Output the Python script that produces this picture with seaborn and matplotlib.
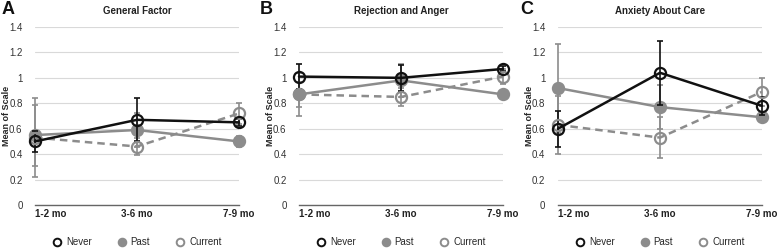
import matplotlib
matplotlib.use("Agg")
import matplotlib.pyplot as plt
from matplotlib.lines import Line2D
import seaborn as sns
import pandas as pd

# categories / labels
timepoints = ['1-2 mo', '3-6 mo', '7-9 mo']
panel_letters = ['A', 'B', 'C']
panel_titles = ['General Factor', 'Rejection and Anger', 'Anxiety About Care']
groups = ['Never', 'Past', 'Current']
yticks = [0, 0.2, 0.4, 0.6, 0.8, 1.0, 1.2, 1.4]
ytick_labels = ['0', '0.2', '0.4', '0.6', '0.8', '1', '1.2', '1.4']

# means per panel (Never, Past, Current)
gf_never = [0.50, 0.67, 0.65]
gf_past = [0.55, 0.59, 0.50]
gf_current = [0.53, 0.46, 0.72]
ra_never = [1.01, 1.00, 1.07]
ra_past = [0.87, 0.98, 0.87]
ra_current = [0.87, 0.85, 1.01]
ac_never = [0.60, 1.04, 0.78]
ac_past = [0.92, 0.77, 0.69]
ac_current = [0.63, 0.53, 0.89]

# error bar half-widths
gf_never_err = [0.08, 0.17, 0.03]
gf_past_err = [0.24, 0.13, 0.04]
gf_current_err = [0.31, 0.07, 0.08]
ra_never_err = [0.10, 0.10, 0.02]
ra_past_err = [0.17, 0.13, 0.02]
ra_current_err = [0.10, 0.07, 0.06]
ac_never_err = [0.14, 0.25, 0.07]
ac_past_err = [0.35, 0.17, 0.04]
ac_current_err = [0.23, 0.16, 0.11]

panels = [
    [(gf_never, gf_never_err), (gf_past, gf_past_err), (gf_current, gf_current_err)],
    [(ra_never, ra_never_err), (ra_past, ra_past_err), (ra_current, ra_current_err)],
    [(ac_never, ac_never_err), (ac_past, ac_past_err), (ac_current, ac_current_err)],
]

sns.set_theme(style="white")
plt.rcParams['font.family'] = ['Liberation Sans', 'DejaVu Sans']

BLACK = '#111111'
GRAY = '#8c8c8c'
styles = {
    'Never': dict(color=BLACK, mfc='none', ls='-', z=5),
    'Past': dict(color=GRAY, mfc=GRAY, ls='-', z=3),
    'Current': dict(color=GRAY, mfc='none', ls=(0, (3, 2)), z=4),
}

W, H = 778, 249
fig = plt.figure(figsize=(W / 100, H / 100), dpi=100)
lefts = [35, 299, 558]
letter_x = [2, 260, 520]
ax_w = 204
ax_top, ax_bot = 27, 205

for i, series in enumerate(panels):
    ax = fig.add_axes([lefts[i] / W, (H - ax_bot) / H, ax_w / W, (ax_bot - ax_top) / H])
    for g, (mean, err) in zip(groups, series):
        st = styles[g]
        df = pd.DataFrame({'x': [0, 1, 2], 'y': mean})
        ax.errorbar(df['x'], df['y'], yerr=err, fmt='none', ecolor=st['color'],
                    elinewidth=1.2, capsize=2.5, capthick=1.2, zorder=st['z'], clip_on=False)
        sns.lineplot(data=df, x='x', y='y', ax=ax, color=st['color'], linestyle=st['ls'],
                     linewidth=1.8, marker='o', markersize=8, markerfacecolor=st['mfc'],
                     markeredgecolor=st['color'], markeredgewidth=1.6,
                     zorder=st['z'] + 1, clip_on=False)
    ax.set_xlim(0, 2)
    ax.set_ylim(0, 1.4)
    ax.set_yticks(yticks)
    ax.set_yticklabels(ytick_labels, fontsize=7, color='#333333')
    ax.set_xticks([0, 1, 2])
    ax.set_xticklabels(timepoints, fontsize=7, fontweight='bold', color='#222222')
    ax.get_xticklabels()[0].set_ha('left')
    ax.tick_params(axis='y', length=0, pad=9)
    ax.tick_params(axis='x', length=0, pad=3)
    ax.yaxis.grid(True, color='#d9d9d9', linewidth=0.8)
    ax.xaxis.grid(False)
    for s in ['top', 'right', 'left']:
        ax.spines[s].set_visible(False)
    ax.spines['bottom'].set_color('#666666')
    ax.spines['bottom'].set_linewidth(1.0)
    ax.set_xlabel('')
    ax.set_ylabel('Mean of Scale', fontsize=6.5, fontweight='bold')
    ax.yaxis.set_label_coords(-0.12, 0.5)
    ax.text(0.5, 1.09, panel_titles[i], transform=ax.transAxes, ha='center', va='center',
            fontsize=7, fontweight='bold', color='#222222')
    fig.text(letter_x[i] / W, 1 - 9 / H, panel_letters[i], ha='left', va='center',
             fontsize=13, fontweight='bold', color='#111111')

    handles = [Line2D([], [], linestyle='none', marker='o', markersize=5.5,
                      markerfacecolor=styles[g]['mfc'], markeredgecolor=styles[g]['color'],
                      markeredgewidth=1.4) for g in groups]
    ax.legend(handles, groups, loc='center', bbox_to_anchor=(0.5, -0.21), ncol=3,
              frameon=False, fontsize=7, handletextpad=0.4, columnspacing=2.6,
              handlelength=1.0, borderpad=0.2)

fig.savefig('out.png', dpi=100)
